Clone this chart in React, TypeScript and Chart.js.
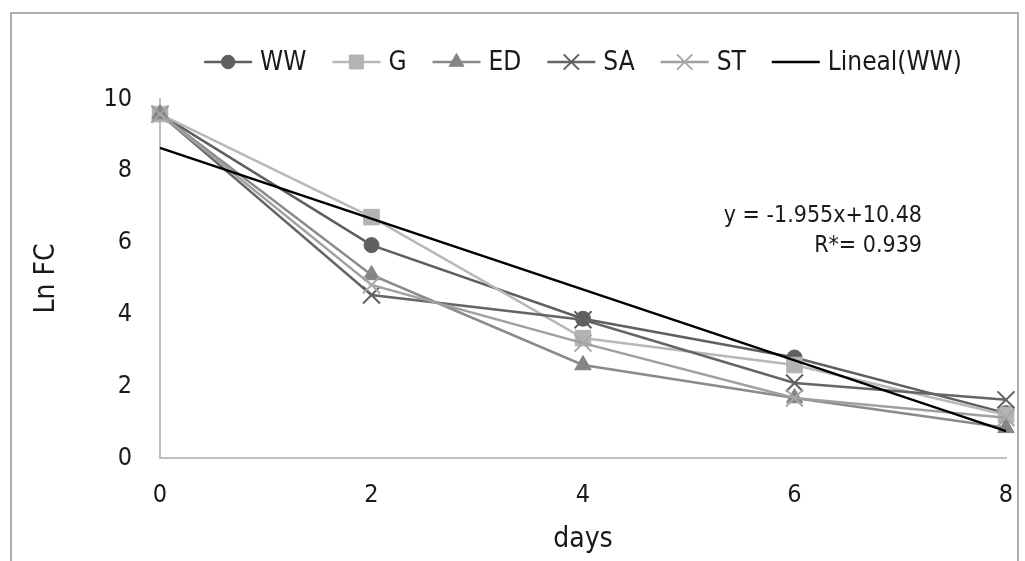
import React, { useEffect, useRef } from "react";
import { Chart, registerables } from "chart.js";
import { drawPoint } from "chart.js/helpers";

Chart.register(...registerables);

// ---- data ----
const days = ["0", "2", "4", "6", "8"];
const ww = [9.58, 5.93, 3.88, 2.8, 1.25];
const g = [9.58, 6.71, 3.34, 2.59, 1.2];
const ed = [9.58, 5.1, 2.59, 1.67, 0.84];
const sa = [9.58, 4.54, 3.85, 2.09, 1.62];
const st = [9.58, 4.82, 3.2, 1.67, 1.12];
const linealWW = [8.64, null, null, null, 0.75];
const yTicks = [0, 2, 4, 6, 8, 10];
const equationLines = ["y = -1.955x+10.48", "R*= 0.939"];

const FONT = "'Liberation Sans Narrow', 'DejaVu Sans Condensed', 'Roboto Condensed', Roboto, sans-serif";
const TEXT_C = "#1a1a1a";
const AXIS_C = "#bfbfbf";

const legendPlugin = {
  id: "lineMarkerLegend",
  afterDraw(chart: any) {
    const ctx = chart.ctx;
    const ds = chart.data.datasets;
    ctx.save();
    ctx.font = `26px ${FONT}`;
    const lineW = 48;
    const gap = 8;
    const spacing = 26;
    const widths = ds.map((d: any) => lineW + gap + ctx.measureText(d.label).width);
    const total = widths.reduce((a: number, b: number) => a + b, 0) + spacing * (ds.length - 1);
    const ca = chart.chartArea;
    let x = (ca.left + ca.right) / 2 - total / 2;
    const y = 62;
    ds.forEach((d: any, i: number) => {
      ctx.strokeStyle = d.borderColor;
      ctx.lineWidth = d.borderWidth;
      ctx.beginPath();
      ctx.moveTo(x, y);
      ctx.lineTo(x + lineW, y);
      ctx.stroke();
      if (d.pointRadius > 0) {
        ctx.fillStyle = d.pointBackgroundColor;
        ctx.strokeStyle = d.pointBorderColor;
        ctx.lineWidth = d.pointBorderWidth;
        drawPoint(ctx, {
          pointStyle: d.pointStyle,
          rotation: 0,
          radius: d.pointRadius * 0.9,
          borderWidth: d.pointBorderWidth,
        }, x + lineW / 2, y);
      }
      ctx.fillStyle = TEXT_C;
      ctx.textAlign = "left";
      ctx.textBaseline = "middle";
      ctx.fillText(d.label, x + lineW + gap, y + 1);
      x += widths[i] + spacing;
    });
    ctx.restore();
  },
};

const equationPlugin = {
  id: "trendEquation",
  afterDraw(chart: any) {
    const ctx = chart.ctx;
    ctx.save();
    ctx.font = `23px ${FONT}`;
    ctx.fillStyle = TEXT_C;
    ctx.textAlign = "right";
    ctx.textBaseline = "middle";
    ctx.fillText(equationLines[0], 922, 216);
    ctx.fillText(equationLines[1], 922, 246);
    ctx.restore();
  },
};

function series(label: string, data: any[], color: string, lineColor: string, style: any, radius: number, order: number, bw = 1) {
  return {
    label,
    data,
    borderColor: lineColor,
    borderWidth: 2.5,
    pointStyle: style,
    pointRadius: radius,
    pointHoverRadius: radius,
    pointBackgroundColor: color,
    pointBorderColor: color,
    pointBorderWidth: bw,
    tension: 0,
    clip: false as any,
    order,
  };
}

export default function App() {
  const ref = useRef<HTMLCanvasElement | null>(null);
  useEffect(() => {
    if (!ref.current) return;
    const chart = new Chart(ref.current, {
      type: "line",
      data: {
        labels: days,
        datasets: [
          series("WW", ww, "#5f5f5f", "#5f5f5f", "circle", 7.5, 6),
          series("G", g, "#b3b3b3", "#b8b8b8", "rect", 11, 5),
          series("ED", ed, "#858585", "#8a8a8a", "triangle", 9.5, 4),
          series("SA", sa, "#606060", "#656565", "crossRot", 12, 3, 2),
          series("ST", st, "#a8a8a8", "#a0a0a0", "crossRot", 12, 2, 2),
          {
            label: "Lineal(WW)",
            data: linealWW,
            borderColor: "#000000",
            borderWidth: 2.5,
            pointRadius: 0,
            pointHoverRadius: 0,
            spanGaps: true,
            clip: false as any,
            order: 1,
          } as any,
        ],
      },
      options: {
        animation: false,
        responsive: true,
        maintainAspectRatio: false,
        layout: { padding: { left: 26, top: 99, right: 19, bottom: 0 } },
        plugins: {
          legend: { display: false },
          tooltip: { enabled: false },
        },
        scales: {
          x: {
            grid: { display: false, drawTicks: false },
            border: { display: true, color: AXIS_C, width: 2 },
            ticks: { font: { family: FONT, size: 25 }, color: TEXT_C, padding: 22, maxRotation: 0 },
            title: {
              display: true,
              text: "days",
              font: { family: FONT, size: 28 },
              color: TEXT_C,
              padding: { top: 0, bottom: 4 },
            },
            afterFit(s: any) {
              s.height = 103;
              s.paddingLeft = 0;
              s.paddingRight = 0;
            },
          },
          y: {
            min: 0,
            max: 10,
            grid: { display: false, drawTicks: false },
            border: { display: true, color: AXIS_C, width: 2 },
            ticks: { font: { family: FONT, size: 25 }, color: TEXT_C, padding: 28 },
            afterBuildTicks(s: any) {
              s.ticks = yTicks.map((v) => ({ value: v }));
            },
            title: {
              display: true,
              text: "Ln FC",
              font: { family: FONT, size: 28 },
              color: TEXT_C,
              padding: { top: 4, bottom: 0 },
            },
            afterFit(s: any) {
              s.width = 134;
            },
          },
        },
      },
      plugins: [legendPlugin, equationPlugin],
    });
    return () => chart.destroy();
  }, []);

  return (
    <div style={{ position: "fixed", left: 0, top: 0, width: 1025, height: 561, background: "#fff", overflow: "hidden" }}>
      <div
        style={{
          position: "absolute",
          left: 10,
          top: 12,
          width: 1009,
          height: 600,
          border: "2px solid #adadad",
          boxSizing: "border-box",
        }}
      />
      <div style={{ position: "absolute", left: 0, top: 0, width: 1025, height: 561 }}>
        <canvas ref={ref} />
      </div>
    </div>
  );
}
